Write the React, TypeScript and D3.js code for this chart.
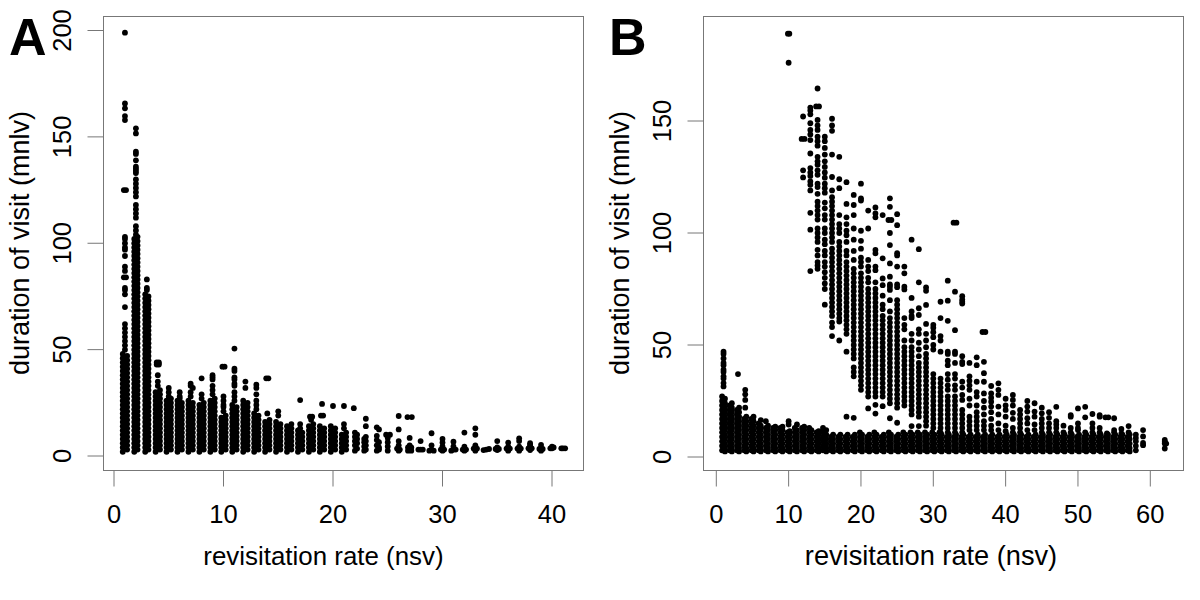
import React from "react";
import * as d3 from "d3";

type Col = [number, number[]];

const ticksAx = [0, 10, 20, 30, 40];
const ticksAy = [0, 50, 100, 150, 200];
const ticksBx = [0, 10, 20, 30, 40, 50, 60];
const ticksBy = [0, 50, 100, 150];
const xLabel = "revisitation rate (nsv)";
const yLabel = "duration of visit (mnlv)";

// Panel A, visits with 1-3 revisits: [rate, durations]
const tallA: Col[] = [
  [1, [199,165.7,163.4,159.8,157.9,103,102,100,98,97,94,89,87,79,78,76,70,62,60,58,56,54,52,50]],
  [0.9, [125,84]], [1.1, [125,84]],
  [0.8, [2,4,6,8,10,12,14,16,18,20,22,24,26,28,30,32,34,36,38,40,42,44,46,48]],
  [1.2, [3,5,7,9,11,13,15,17,19,21,23,25,27,29,31,33,35,37,39,41,43,45,47]],
  [2, [154,151.6,143,142,139,136,135,134,133,130,128,126,124,122,118,116,114,112,108,106,104]],
  [1.85, [2,4,6,8,10,12,14,16,18,20,22,24,26,28,30,32,34,36,38,40,42,44,46,48,50,52,54,56,58,60,62,64,66,68,70,72,74,76,78,80,82,84,86,88,90,92,94,96,98,100,102]],
  [2.15, [3,5,7,9,11,13,15,17,19,21,23,25,27,29,31,33,35,37,39,41,43,45,47,49,51,53,55,57,59,61,63,65,67,69,71,73,75,77,79,81,83,85,87,89,91,93,95,97,99,101,103]],
  [3, [83,79,78]],
  [2.85, [2,4,6,8,10,12,14,16,18,20,22,24,26,28,30,32,34,36,38,40,42,44,46,48,50,52,54,56,58,60,62,64,66,68,70,72,74,76]],
  [3.15, [3,5,7,9,11,13,15,17,19,21,23,25,27,29,31,33,35,37,39,41,43,45,47,49,51,53,55,57,59,61,63,65,67,69,71,73,75]],
];

// Panel A, 4-21 revisits
const midA: Col[] = [
  [4, [33,35,38]], [3.9, [44,43]], [4.1, [44,43]],
  [3.8, [2,4,6,8,10,12,14,16,18,20,22,24,26,28,30]], [4.2, [3,5,7,9,11,13,15,17,19,21,23,25,27,29,31]],
  [5, [28,30,32]],
  [4.8, [2,4,6,8,10,12,14,16,18,20,22,24,26]], [5.2, [3,5,7,9,11,13,15,17,19,21,23,25,27]],
  [6, [27,28,30]],
  [5.8, [2,4,6,8,10,12,14,16,18,20,22,24,26]], [6.2, [3,5,7,9,11,13,15,17,19,21,23,25]],
  [7, [28,30,33,34]],
  [6.8, [2,4,6,8,10,12,14,16,18,20,22,24,26]], [7.2, [3,5,7,9,11,13,15,17,19,21,23,25,32]],
  [8, [27,29,36.5]],
  [7.8, [2,4,6,8,10,12,14,16,18,20,22,24]], [8.2, [3,5,7,9,11,13,15,17,19,21,23,25]],
  [9, [29,31,33,36,37,38]],
  [8.8, [2,4,6,8,10,12,14,16,18,20,22,24,26]], [9.2, [3,5,7,9,11,13,15,17,19,21,23,25,27]],
  [10, [21,23,24,26,28]], [9.9, [42]], [10.1, [42]],
  [9.8, [2,4,6,8,10,12,14,16,18]], [10.2, [3,5,7,9,11,13,15,17,19]],
  [11, [26,28,30,33,34,36,37,40,41,50.5]],
  [10.8, [2,4,6,8,10,12,14,16,18,20,22,24]], [11.2, [3,5,7,9,11,13,15,17,19,21,23]],
  [12, [32,35]],
  [11.8, [2,4,6,8,10,12,14,16,18,20,22,24,26]], [12.2, [3,5,7,9,11,13,15,17,19,21,23,25]],
  [13, [22,24,26,29,32,33.5]],
  [12.8, [2,4,6,8,10,12,14,16,18,20]], [13.2, [3,5,7,9,11,13,15,17,19]],
  [14, [20]], [13.9, [36.5]], [14.1, [36.5]],
  [13.8, [2,4,6,8,10,12,14,16]], [14.2, [3,5,7,9,11,13,15,17]],
  [15, [19,21]],
  [14.8, [2,4,6,8,10,12,14,16]], [15.2, [3,5,7,9,11,13,15]],
  [15.8, [2,4,6,8,10,12,14]], [16.2, [3,5,7,9,11,13,15]],
  [17, [13,15,26.3]],
  [16.8, [2,4,6,8,10,12]], [17.2, [3,5,7,9,11]],
  [18, [17]], [17.9, [18.5]], [18.1, [18.5]],
  [17.8, [2,4,6,8,10,12,14]], [18.2, [3,5,7,9,11,13,15]],
  [19, [24.5]], [18.9, [19]], [19.1, [19]],
  [18.8, [2,4,6,8,10,12,14]], [19.2, [3,5,7,9,11,13]],
  [20, [23.5]],
  [19.8, [2,4,6,8,10,12,14]], [20.2, [3,5,7,9,11,13]],
  [21, [13,15,23.5]],
  [20.8, [2,4,6,8,10]], [21.2, [3,5,7,9,11]],
];

// Panel A, 22-41 revisits
const tailA: Col[] = [
  [21.9, [22.5]],
  [22, [2.5,5,7,9,11]], [22.2, [3.5,6,8,10]],
  [23, [3,5,7,9,14,17.5]], [22.85, [2.5,4.5,6.5,8]],
  [24, [2.5,5,7.5,9.5,13.5]], [24.2, [3,4,6.5,12.5]],
  [25, [2.5,4.5,6.5,8.5]], [24.85, [10]], [25.2, [10]],
  [26, [2.5,5,7,12.5,18.8]], [25.85, [3.5]], [26.1, [3]],
  [27, [3,5,8.5]], [26.8, [18.3]], [27.2, [18.3]], [26.85, [2.5,4]], [27.15, [2.5,4]],
  [28, [3,7]], [27.8, [3]], [28.2, [3]],
  [29, [3,5,10.7]], [28.8, [2.5]], [29.2, [2.5]],
  [30, [2.5,4.5,6.3,8]], [29.85, [3]], [30.15, [3]],
  [31, [3,4.5,6.7]], [30.8, [2.5]], [31.2, [3]],
  [32, [2.5,4.4,11]], [31.85, [3]], [32.15, [3]],
  [33, [2.5,5,10,13]], [32.85, [3.5]], [33.15, [3.5]],
  [34, [3]], [33.75, [2.8]], [34.25, [3.3]],
  [35, [7,4,2.8]], [34.85, [3.3]], [35.15, [3.3]],
  [36, [2.5,4.4,6.3]], [35.85, [3.5]], [36.15, [3.5]],
  [37, [2.5,4.4,7,8.3]], [36.85, [3.5]], [37.15, [3.5]],
  [38, [2.8,4.4,6,5.2]], [37.85, [3.6]], [38.15, [3.6]],
  [39, [2.5,3.6,5.2]], [38.85, [3.3]], [39.15, [3.3]],
  [40, [3.6,4.4]], [39.85, [3.6]], [40.15, [4]],
  [40.85, [3.6]], [41, [3.6]], [41.2, [3.6]],
];

// Panel B, short visits band: [rate, durations]
const lowB: Col[] = [
  [1, [33,35,36,38,39,41,42,44,46,47,31.5]],
  [0.8, [3,5,7,9,11,13,15,17,19,21,23,25,27]], [1.2, [2.5,4,6,8,10,12,14,16,18,20,22,24,26]],
  [1.85, [3,5,7,9,11,13,15,17,19,21,23]], [2.15, [2.5,4,6,8,10,12,14,16,18,20,22,24]],
  [3, [37]], [2.85, [3,5,7,9,11,13,15,17,19,21]], [3.15, [2.5,4,6,8,10,12,14,16,18,20,22]],
  [4, [22,25.5,28,30]], [3.85, [3,5,7,9,11,13,15,17]], [4.15, [2.5,4,6,8,10,12,14,16,18]],
  [4.85, [3,5,7,9,11,13,15,17]], [5.15, [2.5,4,6,8,10,12,14,16,18]],
  [5.85, [3,5,7,9,11,13,15]], [6.15, [2.5,4,6,8,10,12,14,16.5]],
  [6.85, [3,5,7,9,11,13,16]], [7.15, [2.5,4,6,8,10,12,14]],
  [7.85, [3,5,7,9,11,13]], [8.15, [2.5,4,6,8,10,12,13.5]],
  [8.85, [3,5,7,9,11,13]], [9.15, [2.5,4,6,8,10,12,13.5]],
  [10, [14.5,16]], [9.85, [3,5,7,9,11]], [10.15, [2.5,4,6,8,10,11.5]],
  [10.85, [3,5,7,9,11,13]], [11.15, [2.5,4,6,8,10,12,14.5]],
  [11.85, [3,5,7,9,11,13]], [12.15, [2.5,4,6,8,10,12,13.5]],
  [12.85, [3,5,7,9,11,13]], [13.15, [2.5,4,6,8,10,12]],
  [13.85, [3,5,7,9,11]], [14.15, [2.5,4,6,8,10,11.5]],
  [14.75, [3,5,7,9,11,13]], [15.2, [2.5,4,6,8,10,12]],
  [15.85, [3,5,7,9]], [16.15, [2.5,4,6,8,10]],
  [16.85, [3,5,7,9]], [17.15, [2.5,4,6,8,10]],
  [17.85, [3,5,7,9]], [18.15, [2.5,4,6,8,10]],
  [18.85, [3,5,7,9]], [19.15, [2.5,4,6,8,10]],
  [19.85, [3,5,7,9,11]], [20.15, [2.5,4,6,8,10]],
  [20.85, [3,5,7,9]], [21.15, [2.5,4,6,8,10]],
  [21.85, [3,5,7,9,11]], [22.15, [2.5,4,6,8,10]],
  [22.85, [3,5,7,9]], [23.15, [2.5,4,6,8,10]],
  [23.85, [3,5,7,9,11]], [24.15, [2.5,4,6,8,10]],
  [24.85, [3,5,7,9]], [25.15, [2.5,4,6,8,10]],
  [25.85, [3,5,7,9,11]], [26.15, [2.5,4,6,8,10]],
  [26.85, [3,5,7,9,11]], [27.15, [2.5,4,6,8,10]],
  [27.85, [3,5,7,9,11]], [28.15, [2.5,4,6,8,10]],
  [28.85, [3,5,7,9,11]], [29.15, [2.5,4,6,8,10]],
  [29.85, [3,5,7,9,11]], [30.15, [2.5,4,6,8,10]],
  [30.85, [3,5,7,9,11]], [31.15, [2.5,4,6,8,10]],
  [31.85, [3,5,7,9]], [32.15, [2.5,4,6,8,10]],
  [32.85, [3,5,7,9]], [33.15, [2.5,4,6,8,10]],
  [33.85, [3,5,7,9]], [34.15, [2.5,4,6,8,10]],
  [34.85, [3,5,7,9]], [35.15, [2.5,4,6,8,10]],
  [35.85, [3,5,7,9]], [36.15, [2.5,4,6,8,10]],
  [36.85, [3,5,7,9]], [37.15, [2.5,4,6,8,10]],
  [37.85, [3,5,7,9]], [38.15, [2.5,4,6,8,10]],
  [38.85, [3,5,7,9]], [39.15, [2.5,4,6,8,10]],
  [39.85, [3,5,7,9]], [40.15, [2.5,4,6,8,10]],
  [40.85, [3,5,7,9]], [41.15, [2.5,4,6,8,10]],
  [41.85, [3,5,7,9]], [42.15, [2.5,4,6,8,10]],
  [42.85, [3,5,7,9]], [43.15, [2.5,4,6,8,10]],
  [43.85, [3,5,7,9]], [44.15, [2.5,4,6,8,10]],
  [44.85, [3,5,7,9]], [45.15, [2.5,4,6,8,10]],
  [45.85, [3,5,7,9]], [46.15, [2.5,4,6,8,10]],
  [46.85, [3,5,7,9]], [47.15, [2.5,4,6,8,10]],
  [47.85, [3,5,7,9]], [48.15, [2.5,4,6,8,10]],
  [48.85, [3,5,7,9]], [49.15, [2.5,4,6,8,10]],
  [49.85, [3,5,7,9]], [50.15, [2.5,4,6,8,10]],
  [50.85, [3,5,7,9]], [51.15, [2.5,4,6,8,10]],
  [51.85, [3,5,7,9]], [52.15, [2.5,4,6,8,10]],
  [52.85, [3,5,7,9]], [53.15, [2.5,4,6,8,10]],
  [53.85, [3,5,7,9]], [54.15, [2.5,4,6,8,10]],
  [54.85, [3,5,7,9]], [55.15, [2.5,4,6,8,10]],
  [55.85, [3,5,7,9]], [56.15, [2.5,4,6,8,10]],
  [56.85, [3,5,7,9]], [57.15, [2.5,4,6,8,10]],
  [58, [3,5,7,8.5,10]],
  [59, [5.3,6.3,9.2,12]],
  [62, [3.8,6,6.8,7.6]], [62.2, [6]],
];

// Panel B, long visits cluster: [rate, durations]
const clusterB: Col[] = [
  [9.9, [189]], [10.1, [189]], [10, [176]],
  [12, [152,128,124.8]], [11.8, [142]], [12.2, [142]],
  [13, [83,101.5,109,119,121.5,123,125.5,127,129,135.5,141.5,144,146,149,153,154.7,156]],
  [14, [84,85.5,87,90,92.5,96,98,100,102,106,108,110,112,114,117.5,120.5,122,126,128,130.5,132,134,139,141,143,146,148,150.5,164.5]], [13.8, [156.5]], [14.2, [156.5]],
  [15, [68,75,77.5,80,82.5,85,87,90,92,95,97,100,102,106,108,111,113.6,118,120,122,124.7,127,129.5,132,135,138,141,143]],
  [16, [54,58,60,63,65,67,69,71,73,75,77,79,81,83,85,87,89,91,93,96,98,100,102,104,106,108,110,112,114,116,119,125,135,145.6,148,151]],
  [17, [52,60.5,62,64,66,68,70,72,74,76,78,80,82,84,86,88,90,92,94,96,100,102,104,108,120,124,134]],
  [18, [18,47,55,57,59,61,63,65,67,69,71,73,75,77,79,81,83,85,87,90,92,96,99,101,104,107,113,122.7]],
  [19, [17.5,36,38,40,44,46,48,50,52,54,56,58,60,62,64,66,68,70,72,74,76,78,80,82,84,88,92,97,102,108,112.5,117]],
  [20, [30,32,34,36,38,40,42,44,46,48,50,52,54,56,58,60,62,64,66,68,70,72,74,76,78,80,82,85,87,89,93,96.5,101,114.5,115.5,122]],
  [21, [21.7,27,29,31,33,35,37,39,41,43,45,47,49,51,53,55,57,59,61,63,65,67,69,71,73,75,78,80,83,85,88,102,110]],
  [22, [19.4,23.3,27,29,31,33,35,37,39,41,43,45,47,49,51,53,55,57,59,61,63,65,67,69,71,73,75,78,83.4,85,90.9,92.4,107,108.7,111.4]],
  [23, [22.7,27,29,31,33,35,37,39,41,43,45,47,49,51,53,55,57,59,61,63,66,68,72,76.7,79.7,88.7,108]],
  [24, [17.3,24,26,28,30,32,34,36,38,40,42,44,46,48,50,52,54,56,58,60,62,65,70,74.6,76,77,80.5,86.4,94.6,100,111.7,115.5]], [23.8, [105.8]], [24.2, [105.8]],
  [25, [15.3,22,24,26,28,30,32,34,36,38,40,42,44,46,48,50,52,54,56,58,60,62,64,66,68,70,75.8,77,85,90,91,103.5,108.4]],
  [26, [23,25,27,29,31,33,35,37,39,41,43,45,47,49,52,57,59,62,74.8,76,82,85]],
  [27, [13.8,19,21,23,25,27,29,31,33,35,37,39,41,43,45,47,49,52,55,62,63,65,71,97]],
  [28, [13.8,18,20,22,24,26,28,30,32,34,36,38,40,42,45,48,51,55,57,63.4,66.4,78,92.8]],
  [29, [14,16,18,20,22,24,26,28,30,32,34,36,38,40,42,44,46,49,52,55,59.4,67.9,74.2,75.7]],
  [30, [13,15,17,19,21,23,25,27,29,31,33,35,37,48,50,53.5,55.7,57.7,59]],
  [31, [11,13,15,17,19,21,23,25,27,29,31,33,35,47,52,54,62,69.3]],
  [32, [11,13,15,17,19,21,23,25,27,30,32,34.5,37,41,43,46,47,60.8,69.8,78.7]],
  [33, [11,13,15,17,19,21,23,25,27,30,32,35,37,42,46,47,56.6,73.8]], [32.8, [104.6]], [33.2, [104.6]],
  [34, [11,13,15,17,19,21,25.5,27.7,31,33.6,41.5,42.5,45,68.5,69.3,70.3,71.8]],
  [35, [12,14,16,18,23,26,30,32,34,36,42]],
  [36, [12,14,16,18,20,23,27,29,33.6,41,44.5]],
  [37, [12,14,16,19,22,25,28.4,33.6,37.4,42.5]], [36.8, [55.8]], [37.2, [55.8]],
  [38, [12,14,17,20,22.5,24.7,26.5,28.4,31.7]],
  [39, [12,15,19,22.5,27.7,30,32.9]],
  [40, [11.5,14,18,21,23,26]],
  [41, [11,13,17,19.7,23,25.5,27.7]],
  [42, [11,13,15,17,19,21]],
  [43, [12,15,17.3,20.3,22.5,25]],
  [44, [12,14.5,18,20.3,24]],
  [45, [11,13,15,17,19.5,22]],
  [46, [11,13,15,17.5,20]],
  [47, [11,13,14.5,16,22.4]],
  [48, [11,14]],
  [49, [11,13,18,18.7]],
  [50, [12,13,15,21.7]],
  [51, [11,17.7,22.4]],
  [52, [11,13,15,19.2]],
  [53, [11,13,18,18.7]],
  [54, [10.5]], [53.8, [17.7]], [54.2, [17.7]],
  [55, [11,12,17.3]],
  [56, [10.5,12.5]],
  [57, [11,13.8]],
];

const FONT = "'Liberation Sans', Arial, sans-serif";
const GREY = "#777777";
const TICK = 16;

interface PanelProps {
  letter: string;
  letterX: number;
  box: [number, number];
  xTicks: number[];
  yTicks: number[];
  xScale: d3.ScaleLinear<number, number>;
  yScale: d3.ScaleLinear<number, number>;
  columns: Col[][];
  xLabelX: number;
  xLabelSize: number;
  yLabelX: number;
  yTickX: number;
}

function Panel({ letter, letterX, box, xTicks, yTicks, xScale, yScale, columns, xLabelX, xLabelSize, yLabelX, yTickX }: PanelProps) {
  const top = 16.5;
  const bottom = 470.5;
  const points = columns.flatMap((set) => set.flatMap(([r, vals]) => vals.map((v) => [r, v] as const)));
  return (
    <g fontFamily={FONT} fill="#000">
      <rect x={box[0]} y={top} width={box[1] - box[0]} height={bottom - top} fill="none" stroke={GREY} strokeWidth={1} />
      {xTicks.map((t) => (
        <g key={t}>
          <line x1={xScale(t)} x2={xScale(t)} y1={bottom} y2={bottom + TICK} stroke={GREY} />
          <text x={xScale(t)} y={522.5} fontSize={25.5} textAnchor="middle">{t}</text>
        </g>
      ))}
      {yTicks.map((t) => (
        <g key={t}>
          <line x1={box[0] - TICK} x2={box[0]} y1={yScale(t)} y2={yScale(t)} stroke={GREY} />
          <text transform={`translate(${yTickX},${yScale(t)}) rotate(-90)`} fontSize={25.5} textAnchor="middle">{t}</text>
        </g>
      ))}
      {points.map(([r, v], i) => (
        <circle key={i} cx={xScale(r)} cy={yScale(v)} r={2.9} fill="#000" />
      ))}
      <text x={xLabelX} y={564.5} fontSize={xLabelSize} textAnchor="middle">{xLabel}</text>
      <text transform={`translate(${yLabelX},243) rotate(-90)`} fontSize={27} textAnchor="middle">{yLabel}</text>
      <text x={letterX} y={55} fontSize={52} fontWeight={700}>{letter}</text>
    </g>
  );
}

export default function App() {
  const xA = d3.scaleLinear().domain([0, 40]).range([114, 552]);
  const yA = d3.scaleLinear().domain([0, 200]).range([456, 30.5]);
  const xB = d3.scaleLinear().domain([0, 60]).range([716.3, 1150.3]);
  const yB = d3.scaleLinear().domain([0, 150]).range([457, 121]);
  return (
    <svg width={1200} height={600} style={{ position: "absolute", left: 0, top: 0, background: "#fff" }}>
      <Panel letter="A" letterX={9} box={[103.5, 583.5]} xTicks={ticksAx} yTicks={ticksAy} xScale={xA} yScale={yA}
        columns={[tallA, midA, tailA]} xLabelX={323.5} xLabelSize={25.9} yLabelX={29} yTickX={71} />
      <Panel letter="B" letterX={609} box={[703.5, 1183.5]} xTicks={ticksBx} yTicks={ticksBy} xScale={xB} yScale={yB}
        columns={[lowB, clusterB]} xLabelX={931} xLabelSize={27.2} yLabelX={629} yTickX={671} />
    </svg>
  );
}
